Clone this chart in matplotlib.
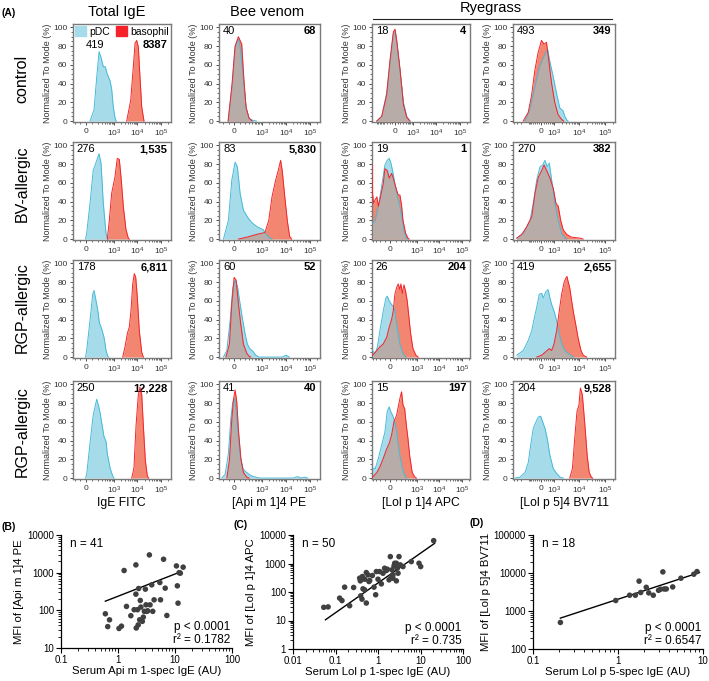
import numpy as np
import matplotlib.pyplot as plt
from matplotlib.patches import Patch
from matplotlib.ticker import FixedLocator, NullFormatter, MultipleLocator, LogLocator

plt.rcParams['font.family'] = ['Liberation Sans', 'DejaVu Sans']
plt.rcParams['mathtext.fontset'] = 'custom'
plt.rcParams['mathtext.rm'] = 'Liberation Sans'
plt.rcParams['mathtext.it'] = 'Liberation Sans:italic'
plt.rcParams['mathtext.bf'] = 'Liberation Sans:bold'

W, H = 709, 681

# ---------------------------------------------------------------- data (A)
row_names = ["control", "BV-allergic", "RGP-allergic", "RGP-allergic"]
channel_names = ["IgE FITC", "[Api m 1]4 PE", "[Lol p 1]4 APC", "[Lol p 5]4 BV711"]

mfi_pdc = [["419", "40", "18", "493"],
           ["276", "83", "19", "270"],
           ["178", "60", "26", "419"],
           ["250", "41", "15", "204"]]
mfi_baso = [["8387", "68", "4", "349"],
            ["1,535", "5,830", "1", "382"],
            ["6,811", "52", "204", "2,655"],
            ["12,228", "40", "197", "9,528"]]

# histogram outlines: (fluorescence, % of mode)
ctrl_ige_pdc = [(70, 0), (139, 12), (186, 47), (232, 74), (281, 68), (352, 58), (428, 58), (521, 50),
                (680, 43), (800, 34), (935, 15), (1100, 4), (1250, 0)]
ctrl_ige_baso = [(3480, 0), (5150, 22), (6670, 58), (7900, 83), (9300, 86), (10900, 79), (12800, 47),
                 (15200, 15), (19000, 0)]
ctrl_bv_pdc = [(-110, 0), (-37, 38), (18, 78), (79, 88), (110, 80), (166, 48), (222, 14), (296, 3),
               (400, 1), (600, 0)]
ctrl_bv_baso = [(-110, 0), (-37, 40), (18, 80), (79, 90), (141, 82), (180, 45), (222, 15), (296, 3),
                (400, 0)]
ctrl_lolp1_pdc = [(-1060, 0), (-650, 5), (-400, 30), (-278, 63), (-94, 93), (0, 96), (94, 84), (278, 53),
                  (400, 20), (555, 5), (766, 0)]
ctrl_lolp1_baso = [(-1060, 0), (-650, 5), (-400, 28), (-278, 65), (-94, 95), (0, 98), (94, 86), (278, 55),
                   (400, 18), (555, 4), (766, 0)]
ctrl_lolp5_pdc = [(-1460, 0), (-930, 12), (-590, 37), (-176, 59), (340, 71), (555, 77), (683, 64), (920, 48),
                  (1250, 30), (1690, 14), (2270, 11), (2650, 5), (3230, 1), (3600, 0)]
ctrl_lolp5_baso = [(-1700, 0), (-1080, 9), (-795, 27), (-590, 54), (-350, 73), (0, 86), (268, 82), (507, 84),
                   (640, 62), (796, 41), (1070, 20), (1440, 7), (1960, 2), (2400, 0)]

bv_ige_pdc = [(-9, 0), (11, 6), (69, 38), (124, 73), (232, 91), (281, 81), (352, 38), (460, 6), (522, 1),
              (560, 0)]
bv_ige_baso = [(521, 0), (634, 20), (800, 49), (1100, 66), (1380, 86), (1690, 85), (2000, 66), (2500, 35),
               (3250, 10), (4080, 1), (4500, 0)]
bv_bv_pdc = [(-196, 0), (-105, 20), (-42, 63), (18, 82), (61, 77), (110, 49), (171, 31), (277, 22), (408, 17),
             (650, 13), (1150, 10), (1430, 6), (1950, 2), (2650, 0)]
bv_bv_baso = [(79, 0), (238, 2), (615, 5), (1350, 7), (1950, 20), (2650, 45), (3760, 63), (4800, 73),
              (6040, 84), (7050, 73), (9000, 45), (11400, 20), (14200, 3), (17300, 0)]
bv_lolp1_pdc = [(-410, 17), (-316, 20), (-227, 35), (-163, 56), (-102, 79), (-59, 84), (-22, 86), (4, 82),
                (41, 73), (83, 59), (115, 51), (145, 42), (176, 35), (225, 20), (285, 6), (340, 1), (400, 0)]
bv_lolp1_baso = [(-440, 80), (-420, 50), (-370, 38), (-316, 42), (-265, 45), (-227, 35), (-195, 42),
                 (-133, 59), (-102, 75), (-59, 73), (-22, 65), (22, 70), (52, 65), (115, 52), (145, 47),
                 (176, 47), (208, 36), (240, 20), (316, 6), (400, 1), (450, 0)]
bv_lolp5_pdc = [(-3030, 1), (-1670, 6), (-910, 20), (-680, 38), (-495, 63), (-155, 77), (124, 79), (360, 84),
                (538, 77), (653, 81), (810, 63), (1090, 38), (1470, 20), (2000, 6), (2700, 1), (3200, 0)]
bv_lolp5_baso = [(-3030, 1), (-1930, 5), (-1230, 13), (-780, 24), (-580, 49), (-330, 66), (20, 73), (258, 79),
                 (538, 72), (695, 65), (940, 54), (1200, 38), (1470, 35), (1830, 20), (2300, 10), (3150, 5),
                 (4940, 2), (10500, 1), (14000, 0)]

rgp1_ige_pdc = [(-9, 0), (11, 7), (69, 39), (116, 67), (139, 71), (174, 60), (204, 50), (238, 37), (301, 30),
                (378, 21), (460, 7), (542, 1), (600, 0)]
rgp1_ige_baso = [(2350, 0), (2960, 11), (3700, 25), (4500, 32), (5320, 50), (6280, 78), (7340, 89),
                 (8440, 85), (9860, 64), (12000, 28), (15200, 5), (17800, 0)]
rgp1_bv_pdc = [(-196, 0), (-134, 7), (-73, 39), (-24, 74), (18, 82), (61, 76), (110, 57), (160, 39),
               (202, 25), (251, 14), (317, 9), (434, 6), (561, 2), (767, 0), (7000, 0), (10000, 2),
               (14000, 0)]
rgp1_bv_baso = [(-150, 0), (-86, 14), (-42, 57), (0, 85), (37, 82), (79, 57), (123, 35), (171, 14),
                (238, 4), (296, 1), (350, 0)]
rgp1_lolp1_pdc = [(-410, 7), (-316, 4), (-250, 11), (-195, 28), (-133, 49), (-83, 63), (-59, 65), (-22, 60),
                  (22, 56), (52, 54), (83, 49), (115, 35), (145, 25), (176, 14), (225, 5), (285, 1), (330, 0)]
rgp1_lolp1_baso = [(-410, 2), (-265, 7), (-195, 11), (-133, 14), (-70, 21), (-22, 32), (22, 40), (52, 49),
                   (83, 67), (115, 74), (145, 78), (176, 72), (195, 78), (225, 68), (265, 77), (316, 70),
                   (370, 60), (444, 42), (527, 25), (667, 9), (900, 2), (1140, 0)]
rgp1_lolp5_pdc = [(-3030, 2), (-1670, 7), (-1060, 18), (-780, 28), (-615, 42), (-495, 53), (-227, 67),
                  (20, 68), (186, 63), (463, 70), (585, 72), (695, 63), (810, 56), (1000, 49), (1270, 39),
                  (1610, 25), (2000, 14), (2700, 7), (3560, 4), (4940, 1), (6000, 0)]
rgp1_lolp5_baso = [(-495, 0), (20, 2), (538, 7), (653, 9), (810, 7), (1000, 14), (1270, 28), (1610, 49),
                   (2000, 67), (2470, 79), (2890, 84), (3250, 86), (3560, 81), (4150, 74), (4940, 60),
                   (5960, 46), (7130, 35), (8770, 21), (11500, 7), (14100, 2), (19200, 0)]

rgp2_ige_pdc = [(-9, 0), (11, 4), (69, 37), (124, 67), (186, 84), (216, 78), (255, 70), (301, 59), (378, 44),
                (460, 39), (521, 26), (680, 11), (885, 2), (1000, 0)]
rgp2_ige_baso = [(5700, 0), (7100, 11), (8700, 56), (10900, 89), (12800, 97), (15200, 89), (17800, 56),
                 (21600, 19), (26300, 2), (30100, 0)]
rgp2_bv_pdc = [(-229, 0), (-165, 4), (-105, 26), (-61, 63), (-24, 81), (5, 85), (37, 74), (79, 44), (123, 19),
               (171, 9), (238, 6), (296, 4), (408, 2), (561, 1), (800, 0), (20000, 0), (30000, 1.5),
               (45000, 0), (60000, 1), (80000, 0)]
rgp2_bv_baso = [(-134, 0), (-86, 19), (-42, 63), (-13, 83), (18, 94), (50, 81), (79, 52), (123, 22),
                (171, 6), (238, 1), (300, 0)]
rgp2_lolp1_pdc = [(-410, 11), (-316, 10), (-227, 21), (-163, 35), (-102, 49), (-59, 71), (-22, 76), (4, 71),
                  (41, 67), (83, 60), (115, 49), (145, 35), (176, 24), (225, 10), (285, 3), (340, 0)]
rgp2_lolp1_baso = [(-410, 1), (-265, 6), (-195, 12), (-133, 21), (-70, 31), (-22, 37), (22, 46), (65, 60),
                   (115, 67), (145, 76), (176, 85), (208, 92), (240, 78), (285, 74), (340, 56), (400, 42),
                   (476, 24), (616, 6), (813, 1), (950, 0)]
rgp2_lolp5_pdc = [(-3540, 0), (-2250, 1), (-1430, 6), (-1060, 17), (-860, 35), (-680, 53), (-530, 60),
                  (-330, 65), (-82, 66), (124, 60), (360, 53), (545, 42), (695, 24), (940, 10), (1270, 5),
                  (1720, 1), (2300, 0)]
rgp2_lolp5_baso = [(4150, 0), (5300, 10), (6510, 42), (8020, 71), (9590, 78), (10900, 96), (13000, 89),
                   (16000, 60), (20200, 24), (24200, 6), (29400, 1), (33000, 0)]

pdc_curves = [[ctrl_ige_pdc, ctrl_bv_pdc, ctrl_lolp1_pdc, ctrl_lolp5_pdc],
              [bv_ige_pdc, bv_bv_pdc, bv_lolp1_pdc, bv_lolp5_pdc],
              [rgp1_ige_pdc, rgp1_bv_pdc, rgp1_lolp1_pdc, rgp1_lolp5_pdc],
              [rgp2_ige_pdc, rgp2_bv_pdc, rgp2_lolp1_pdc, rgp2_lolp5_pdc]]
baso_curves = [[ctrl_ige_baso, ctrl_bv_baso, ctrl_lolp1_baso, ctrl_lolp5_baso],
               [bv_ige_baso, bv_bv_baso, bv_lolp1_baso, bv_lolp5_baso],
               [rgp1_ige_baso, rgp1_bv_baso, rgp1_lolp1_baso, rgp1_lolp5_baso],
               [rgp2_ige_baso, rgp2_bv_baso, rgp2_lolp1_baso, rgp2_lolp5_baso]]

# ---------------------------------------------------------------- data (B-D)
api_serum = [0.60, 0.66, 0.71, 1.04, 1.15, 1.28, 1.41, 1.68, 2.06, 2.06, 2.09, 2.20, 2.30, 2.46, 2.52, 2.67,
             2.78, 2.90, 3.02, 3.18, 3.55, 3.65, 3.91, 4.07, 5.42, 5.57, 6.30, 6.73, 7.20, 10.6, 11.0, 11.3,
             11.8, 12.4, 13.9, 3.32, 2.26, 2.40, 1.92, 3.10, 4.30]
api_mfi = [81, 37, 56, 33, 38, 1140, 127, 72, 1610, 269, 34, 104, 380, 183, 122, 51, 66, 94, 365, 94, 2960,
           140, 475, 94, 548, 190, 2270, 388, 73, 1510, 447, 155, 1000, 968, 1400, 97, 41, 56, 104, 140, 190]
api_fit_x = [0.6, 12.9]
api_fit_y = [175, 1070]

lolp1_serum = [0.053, 0.067, 0.125, 0.142, 0.164, 0.215, 0.267, 0.37, 0.384, 0.428, 0.485, 0.531, 0.582,
               0.614, 0.391, 0.42, 0.444, 0.485, 0.531, 0.637, 0.736, 0.805, 0.881, 1.0, 1.09, 1.2, 1.43,
               1.57, 1.66, 1.82, 1.95, 2.13, 2.25, 2.38, 2.47, 2.7, 2.85, 2.96, 3.12, 3.35, 2.06, 2.25, 2.7,
               1.31, 6.08, 9.22, 10.1, 20.4, 0.914, 3.87]
lolp1_mfi = [29, 30, 61, 50, 148, 33, 144, 305, 246, 349, 281, 481, 398, 233, 73, 56, 129, 119, 41, 253,
             378, 148, 80, 281, 521, 193, 682, 566, 629, 267, 1745, 597, 398, 823, 1020, 1020, 682, 456,
             1745, 893, 349, 305, 246, 456, 1167, 1020, 780, 6340, 521, 780]
lolp1_fit_x = [0.058, 21.5]
lolp1_fit_y = [10.6, 5110]

lolp5_serum = [0.21, 0.94, 1.37, 1.6, 1.77, 1.85, 2.15, 2.3, 2.6, 3.0, 3.17, 3.37, 3.5, 3.7, 4.4, 5.5, 7.8, 8.5]
lolp5_mfi = [500, 1890, 2600, 2600, 6100, 3070, 4200, 3000, 2600, 3500, 3750, 10700, 3800, 3800, 4300, 7300,
             9300, 10900]
lolp5_fit_x = [0.21, 9.1]
lolp5_fit_y = [650, 10300]

# ---------------------------------------------------------------- styles
PDC_FILL, PDC_LINE = '#a6dbe9', '#45b9d9'
BASO_FILL, BASO_LINE = '#f38670', '#f5222a'
OVERLAP = '#b7aca7'

col_left = [72.7, 219, 371.7, 513]
col_width = [98, 101, 98.3, 102]
row_top = [24, 142, 260, 381]
row_height = 98
# biexponential-like display per channel: linthresh, linscale, xmin, xmax
col_scale = [(200, 0.44, -240, 2.6e5), (200, 0.405, -300, 2.6e5),
             (200, 0.432, -450, 2.3e5), (500, 0.171, -4250, 2.5e5)]
ctrl_lolp1_scale = (300, 0.207, -1730, 2.7e5)

fig = plt.figure(figsize=(W / 100, H / 100), dpi=100)


def px_axes(left, top, width, height):
    return fig.add_axes([left / W, 1 - (top + height) / H, width / W, height / H])


def fig_text(x, y, s, **kw):
    fig.text(x / W, 1 - y / H, s, **kw)


def draw_overlay(ax, pdc, baso):
    tr = ax.xaxis.get_transform()
    inv = tr.inverted()
    px_, py_ = np.array(pdc, dtype=float).T
    bx_, by_ = np.array(baso, dtype=float).T
    tp = tr.transform(px_.reshape(-1, 1)).ravel()
    tb = tr.transform(bx_.reshape(-1, 1)).ravel()
    ax.fill_between(px_, 0, py_, color=PDC_FILL, lw=0, zorder=1)
    ax.fill_between(bx_, 0, by_, color=BASO_FILL, lw=0, zorder=2)
    grid = np.linspace(max(tp.min(), tb.min()), min(tp.max(), tb.max()), 600)
    if grid[0] < grid[-1]:
        ov = np.minimum(np.interp(grid, tp, py_, left=0, right=0),
                        np.interp(grid, tb, by_, left=0, right=0))
        gx = inv.transform(grid.reshape(-1, 1)).ravel()
        ax.fill_between(gx, 0, ov, color=OVERLAP, lw=0, zorder=3)
    ax.plot(px_, py_, color=PDC_LINE, lw=0.7, zorder=4)
    ax.plot(bx_, by_, color=BASO_LINE, lw=0.7, zorder=5)


for r in range(4):
    for c in range(4):
        ax = px_axes(col_left[c], row_top[r], col_width[c], row_height)
        L, ls, x0, x1 = ctrl_lolp1_scale if (r == 0 and c == 2) else col_scale[c]
        ax.set_xscale('symlog', linthresh=L, linscale=ls)
        ax.set_xlim(x0, x1)
        ax.set_ylim(-1, 103.5)
        draw_overlay(ax, pdc_curves[r][c], baso_curves[r][c])

        ax.set_xticks([0, 1e3, 1e4, 1e5], labels=['0', '$10^3$', '$10^4$', '$10^5$'])
        minors = []
        for k in range(1, 6):
            for m in range(1, 10):
                v = m * 10 ** k
                if L < v < x1:
                    minors.append(v)
                if L < v < -x0:
                    minors.append(-v)
        minors += [-L, -L / 2, L / 2, L]
        ax.xaxis.set_minor_locator(FixedLocator([v for v in minors if x0 < v < x1]))
        ax.xaxis.set_minor_formatter(NullFormatter())
        ax.set_yticks([0, 20, 40, 60, 80, 100])
        ax.yaxis.set_minor_locator(MultipleLocator(5))
        ax.tick_params(axis='both', which='major', labelsize=6, length=2.5, width=0.6,
                       pad=1.5, colors='#333333')
        ax.tick_params(axis='both', which='minor', length=1.3, width=0.5, colors='#333333')
        for sp in ax.spines.values():
            sp.set_color('#7a7a7a')
            sp.set_linewidth(1.0)
        ax.set_ylabel('Normalized To Mode (%)', fontsize=6.5, color='#333333', labelpad=1)

        if r == 0 and c == 0:
            ax.legend(handles=[Patch(facecolor=PDC_FILL, edgecolor=PDC_FILL, label='pDC'),
                               Patch(facecolor=BASO_LINE, edgecolor=BASO_LINE, label='basophil')],
                      loc='upper left', ncol=2, frameon=False, fontsize=7.5, handlelength=1.1,
                      handleheight=1.1, handletextpad=0.25, columnspacing=0.6,
                      borderaxespad=0.1, borderpad=0.1)
            ax.text(0.13, 0.84, mfi_pdc[r][c], transform=ax.transAxes, fontsize=8,
                    ha='left', va='top')
            ax.text(0.97, 0.84, mfi_baso[r][c], transform=ax.transAxes, fontsize=8,
                    ha='right', va='top', fontweight='bold')
        else:
            ax.text(0.04, 0.975, mfi_pdc[r][c], transform=ax.transAxes, fontsize=8,
                    ha='left', va='top')
            ax.text(0.965, 0.975, mfi_baso[r][c], transform=ax.transAxes, fontsize=8,
                    ha='right', va='top', fontweight='bold')

# column / row headings
fig_text(2, 13, '(A)', fontsize=7.5, fontweight='bold', va='center')
fig_text(117, 12, 'Total IgE', fontsize=10.5, ha='center', va='center')
fig_text(267, 12, 'Bee venom', fontsize=10.5, ha='center', va='center')
fig_text(491, 8, 'Ryegrass', fontsize=10.5, ha='center', va='center')
fig.add_artist(plt.Line2D([372.7 / W, 611.7 / W], [1 - 19 / H, 1 - 19 / H], color='#222222', lw=0.8))
row_label_y = [79, 184, 308, 432]
for r in range(4):
    fig_text(22, row_label_y[r], row_names[r], fontsize=11.5, rotation=90, ha='center', va='center')
for c in range(4):
    fig_text(col_left[c] + col_width[c] / 2, 503, channel_names[c], fontsize=8.7, ha='center', va='center')

# ---------------------------------------------------------------- scatter panels
scatter_specs = [
    ('(B)', (2, 527), (61, 535, 171, 113), api_serum, api_mfi, api_fit_x, api_fit_y,
     (0.1, 100), [0.1, 1, 10, 100], ['0.1', '1', '10', '100'],
     (10, 10000), [10, 100, 1000, 10000], ['10', '100', '1000', '10000'],
     'Serum Api m 1-spec IgE (AU)', 'MFI of [Api m 1]4 PE', 'n = 41', 'p < 0.0001\nr² = 0.1782'),
    ('(C)', (233, 525), (293, 535, 170, 114), lolp1_serum, lolp1_mfi, lolp1_fit_x, lolp1_fit_y,
     (0.01, 100), [0.01, 0.1, 1, 10, 100], ['0.01', '0.1', '1', '10', '100'],
     (1, 10000), [1, 10, 100, 1000, 10000], ['1', '10', '100', '1000', '10000'],
     'Serum Lol p 1-spec IgE (AU)', 'MFI of [Lol p 1]4 APC', 'n = 50', 'p < 0.0001\nr² = 0.735'),
    ('(D)', (470, 523), (533, 535, 170, 114), lolp5_serum, lolp5_mfi, lolp5_fit_x, lolp5_fit_y,
     (0.1, 10), [0.1, 1, 10], ['0.1', '1', '10'],
     (100, 100000), [100, 1000, 10000, 100000], ['100', '1000', '10000', '100000'],
     'Serum Lol p 5-spec IgE (AU)', 'MFI of [Lol p 5]4 BV711', 'n = 18', 'p < 0.0001\nr² = 0.6547'),
]

for (tag, tag_xy, box, sx, sy, fx, fy, xlim, xt, xtl, ylim, yt, ytl,
     xlabel, ylabel, ntext, stats) in scatter_specs:
    ax = px_axes(*box)
    ax.set_xscale('log')
    ax.set_yscale('log')
    ax.scatter(sx, sy, s=16, color='#404040', edgecolors='none', zorder=3, clip_on=False)
    ax.plot(fx, fy, color='black', lw=1.0, zorder=2)
    ax.set_xlim(*xlim)
    ax.set_ylim(*ylim)
    ax.set_xticks(xt, labels=xtl)
    ax.set_yticks(yt, labels=ytl)
    ax.xaxis.set_minor_locator(LogLocator(base=10, subs=np.arange(2, 10)))
    ax.yaxis.set_minor_locator(LogLocator(base=10, subs=np.arange(2, 10)))
    ax.xaxis.set_minor_formatter(NullFormatter())
    ax.yaxis.set_minor_formatter(NullFormatter())
    ax.spines['top'].set_visible(False)
    ax.spines['right'].set_visible(False)
    for side in ('left', 'bottom'):
        ax.spines[side].set_linewidth(0.9)
    ax.tick_params(which='major', labelsize=7, length=3.5, width=0.8, pad=1.5)
    ax.tick_params(which='minor', length=2, width=0.6)
    ax.set_xlabel(xlabel, fontsize=8.2, labelpad=1)
    ax.set_ylabel(ylabel, fontsize=8.2, labelpad=2)
    ax.text(0.05, 0.97, ntext, transform=ax.transAxes, fontsize=8.5, ha='left', va='top')
    ax.text(0.99, 0.02, stats, transform=ax.transAxes, fontsize=8.5, ha='right', va='bottom',
            linespacing=1.1)
    fig_text(tag_xy[0], tag_xy[1], tag, fontsize=7.5, fontweight='bold', va='center')

fig.savefig('out.png', dpi=100)
